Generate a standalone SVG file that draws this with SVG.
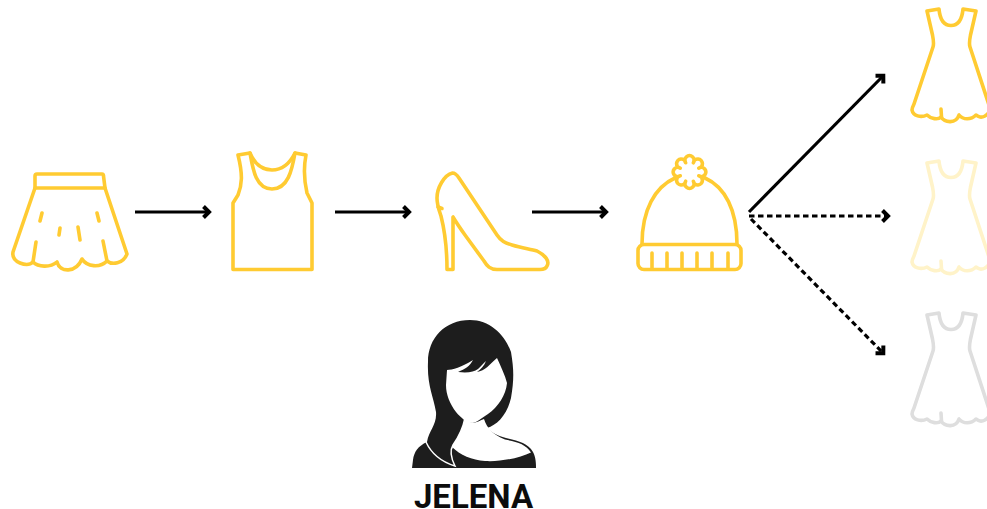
<svg xmlns="http://www.w3.org/2000/svg" width="987" height="509" viewBox="0 0 987 509">
<style>
.i{fill:none;stroke:#ffcb32;stroke-width:3.600;stroke-linejoin:round;stroke-linecap:round}
.c{fill:none;stroke:#000;stroke-width:3.200}
.d{stroke-dasharray:5.500 3.500}
text{font-family:"Roboto","Liberation Sans",sans-serif;font-weight:700;font-size:33px;fill:#0c0c0c}
</style>
<defs>
<marker id="a" markerUnits="userSpaceOnUse" markerWidth="14" markerHeight="16" refX="10" refY="8" orient="auto"><path d="M3.500 2.500L9 8L3.500 13.500" fill="none" stroke="#000" stroke-width="4"/></marker>
<g id="dress">
<path d="M927 11L939 9C940 20 944 25.500 951 25.500C958 25.500 962 20 963 9L976 11L970.500 35C969.500 40 969 44 970 47L990 108C991 112 988 114 985 116C981 118 979 117 976 115C971 120 963 120 959 115C956 124 945 123 941 117C938 120 931 119 927 115C921 118 913 116 912 110C912 108 913 106 914 104L933 47C934 44 933.500 40 932.500 35Z"/>
<path d="M941 109L941.500 117"/>
</g>
</defs>
<g id="connectors">
<path class="c" marker-end="url(#a)" d="M135 212H210"/>
<path class="c" marker-end="url(#a)" d="M335 212H410"/>
<path class="c" marker-end="url(#a)" d="M532 212H607"/>
<path class="c" marker-end="url(#a)" d="M749 212L884 75"/>
<path class="c d" marker-end="url(#a)" d="M749 216H889"/>
<path class="c d" marker-end="url(#a)" d="M751 219L884 354"/>
</g>
<g id="skirt" class="i">
<path d="M35 188L35 176Q35 174 37 174H102Q103.500 174 103.500 176L105 188Z"/>
<path d="M35 188L13 252C12 258 15 261 20 263C25 265 30 265 33 262C38 267 50 268 57 262C60 273 76 273 82 259C87 267 100 268 107 261C112 265 123 264 127 254L105 188"/>
<path d="M36 242L33 262M42 213L40 221M60 228L59 235M78 227L80 240M97 213L99 221M103 241L107 261"/>
</g>
<g id="tank" class="i">
<path d="M238 155L250 153C255 165 263 170 272 170C282 170 290 163 295 153L306 155C304 165 304 180 307 193L312 203V269.500H233V203L238 195C242 185 243 175 238 155Z"/>
<path d="M250 153C253 170 256 189 272 189C288 189 292 170 295 153"/>
</g>
<g id="shoe" class="i">
<path d="M452.500 173C455 173 457 175 459 178L497 235C501 241 505 243 512 245C522 248 530 249 537 251C545 255 550 261 547 266C546 268.500 544 269.500 540 269.500H497C490 269.500 487 266 484 261L465 235C460 228 456 222 453 217V269.500H447C447 250 445 232 441 216C439 210 437 205 437 198C437 188 444 175 452.500 173Z"/>
<path d="M438 207L442 208.500"/>
</g>
<g id="hat" class="i">
<path d="M642 244C642 210 655 187 675 178M705 178C725 187 737 210 737 244"/>
<rect x="638" y="244.500" width="103" height="25" rx="6"/>
<path d="M652 253V269M667 253V269M682 253V269M697 253V269M712 253V269M728 253V269"/>
<path transform="translate(689.500 172)" d="M9.240 3.830A4.600 4.600 0 1 1 3.830 9.240A4.600 4.600 0 1 1 -3.830 9.240A4.600 4.600 0 1 1 -9.240 3.830A4.600 4.600 0 1 1 -9.240 -3.830A4.600 4.600 0 1 1 -3.830 -9.240A4.600 4.600 0 1 1 3.830 -9.240A4.600 4.600 0 1 1 9.240 -3.830A4.600 4.600 0 1 1 9.240 3.830Z"/>
</g>
<use id="dress-yellow" href="#dress" class="i"/>
<use id="dress-pale" href="#dress" y="152" class="i" style="stroke:#fff3c9"/>
<use id="dress-grey" href="#dress" y="304" class="i" style="stroke:#dedede"/>
<g id="jelena">
<path fill="#1d1d1d" d="M470 320C445 320 428 338 428 362C427 385 433 395 436 412C437 425 429 430 427 442C418 446 414 452 413 460L412 468H536C536 460 535 456 533 452C528 443 518 441 506 438C497 436 490 431 487 428C497 425 507 415 511 398C514 380 514 370 511 352C505 335 490 320 470 320Z"/>
<path fill="#fff" d="M447 370C452 370 462 367 473 360C470 366 465 369 458 372C468 373 474 372 478 369C481 366 483 364 486 361C484 366 481 369 477 372C485 371 490 364 497 358C501 367 505 375 507 383C506 395 498 407 488 414C482 418 476 423 472 423C466 422 461 418 456 412C450 404 446 395 446 385Z"/>
<path fill="#fff" d="M472 423C476 423 481 420 484 419C487 428 492 434 505 439.500C517 442 526 444 531 452.500C520 458 500 462 485 461C472 460 460 455 452 447C458 438 463 428 465 418C467 420 470 422 472 423Z"/>
<path fill="none" stroke="#fff" stroke-width="1.500" d="M426 442C432 455 442 462 455 466C451 458 450 450 453 445C458 438 463 428 465 418"/>
<text x="473.500" y="507.500" text-anchor="middle">JELENA</text>
</g>
</svg>
